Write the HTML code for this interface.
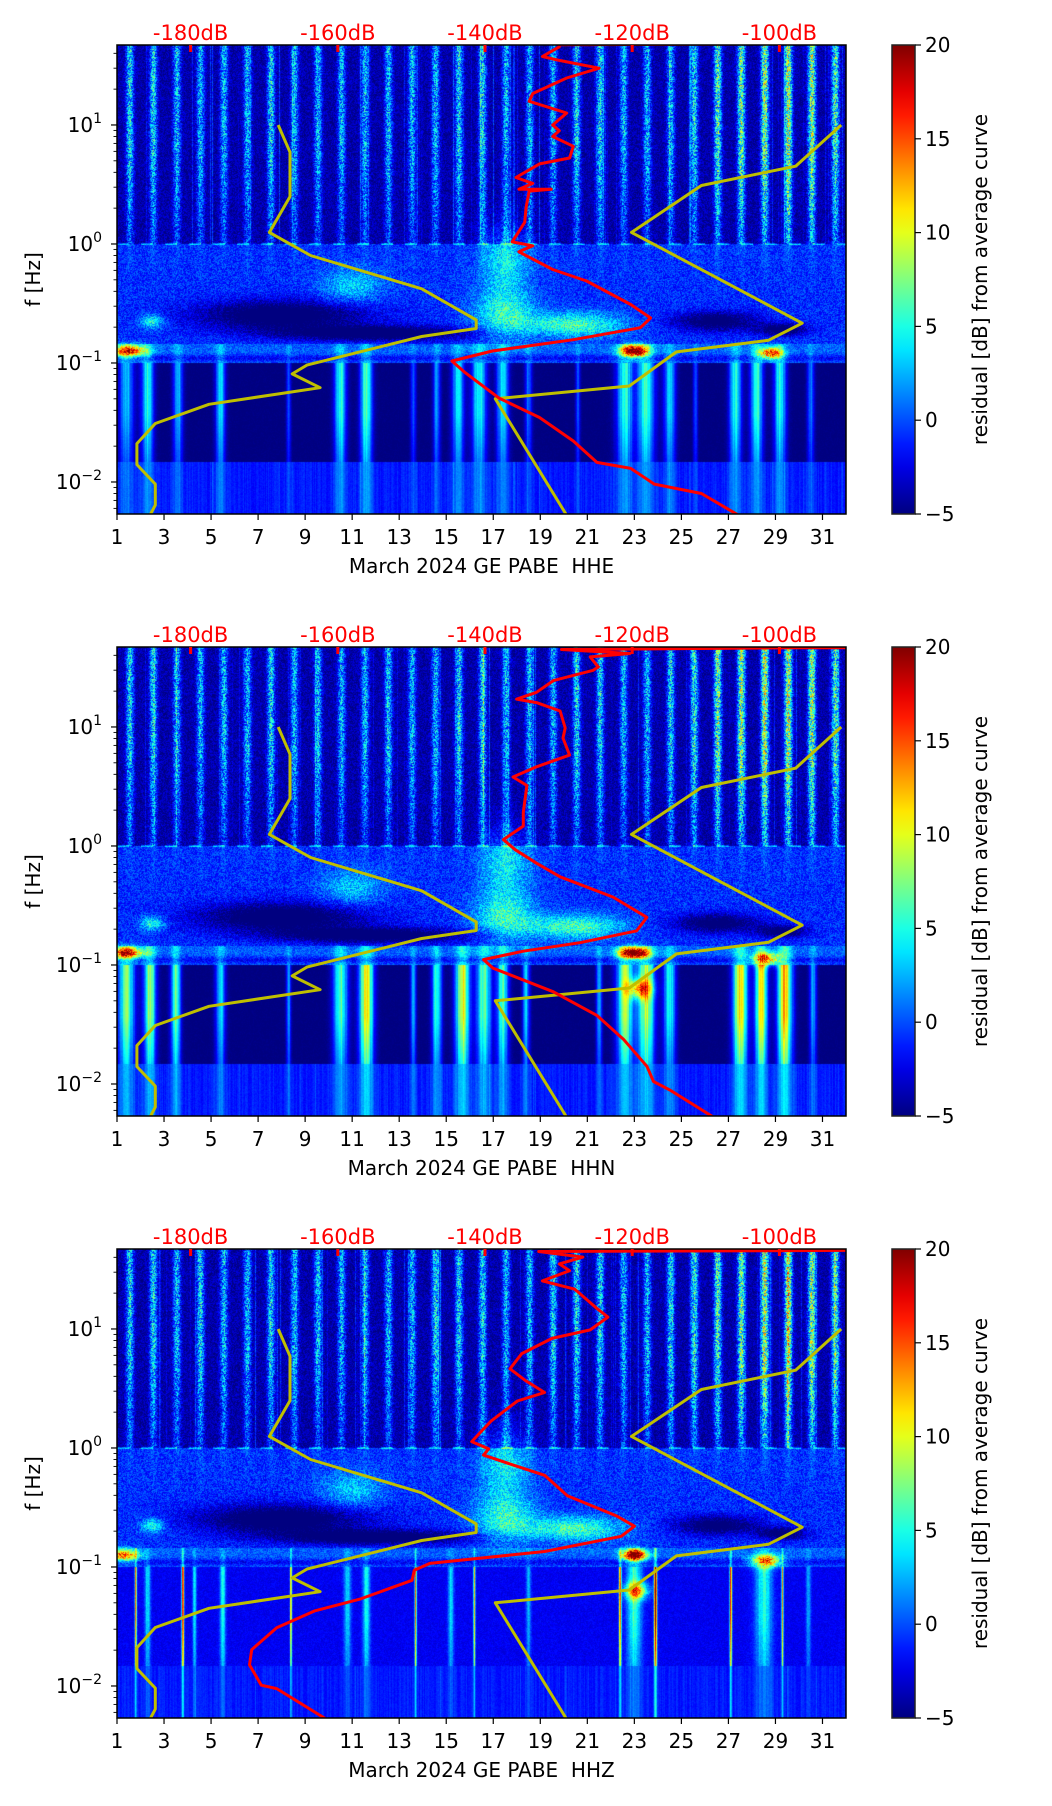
<!DOCTYPE html>
<html><head><meta charset="utf-8">
<style>
html,body{margin:0;padding:0;background:#fff;}
#root{position:relative;width:1052px;height:1806px;overflow:hidden;font-family:"DejaVu Sans","Liberation Sans",sans-serif;}
canvas{position:absolute;}
svg{position:absolute;left:0;top:0;}
text{white-space:pre;}
</style></head>
<body>
<div id="root">
<canvas id="c0" width="729" height="469" style="left:117px;top:45px"></canvas>
<canvas id="c1" width="729" height="469" style="left:117px;top:647px"></canvas>
<canvas id="c2" width="729" height="469" style="left:117px;top:1249px"></canvas>
<svg id="s" width="1052" height="1806"></svg>
</div>
<script>
// ---------------- data ----------------
const panelTops = [45, 647, 1249];
const panelNames = ["HHE", "HHN", "HHZ"];
const dayTicks = [1,3,5,7,9,11,13,15,17,19,21,23,25,27,29,31];
const dbTicks = [-180,-160,-140,-120,-100];
const freqTicks = [-2,-1,0,1];
const cbTicks = [-5,0,5,10,15,20];

const nlnmF = [10,5.9,2.5,1.25,0.8,0.42,0.23,0.195,0.167,0.096,0.081,0.062,0.045,0.031,0.021,0.014,0.0096,0.0064,0.005];
const nlnmDb = [-168.1,-166.5,-166.5,-169.3,-163.7,-148.6,-141.2,-141.2,-148.6,-164.2,-166.2,-162.4,-177.5,-184.8,-187.3,-187.3,-184.8,-184.8,-185.7];
const nhnmF = [10,4.5,3.1,1.25,0.216,0.155,0.124,0.064,0.05,0.005];
const nhnmDb = [-91.6,-97.8,-110.6,-120.1,-96.9,-101.5,-114,-120.4,-138.6,-128.7];

const psdF_HHE = [48.3,47.2,45.4,37.6,34.9,30,24.8,18.4,15.8,12.6,10,8.95,8,6.62,5.28,4.71,3.62,3.23,2.88,2.88,2.78,2.06,1.52,1.04,0.965,0.86,0.61,0.489,0.31,0.239,0.198,0.157,0.126,0.104,0.083,0.0507,0.0348,0.0221,0.0146,0.013,0.0096,0.008,0.0049];
const psdDb_HHE = [-90.5,-129.9,-129.9,-132.2,-129.9,-124.5,-128.9,-133.5,-134.0,-128.9,-130.8,-129.9,-130.8,-128.0,-128.5,-132.6,-135.8,-133.5,-135.4,-131.0,-134.0,-134.4,-134.6,-136.3,-133.5,-135.4,-130.8,-126.2,-120.2,-117.5,-118.9,-128.0,-139.0,-144.5,-142.7,-138.1,-132.6,-128.0,-124.8,-120.2,-117.0,-110.6,-104.7];
const psdLogF_HHN = [1.666,1.666,1.651,1.617,1.589,1.504,1.476,1.390,1.291,1.233,1.205,1.134,0.992,0.907,0.764,0.665,0.580,0.508,0.282,0.167,0.054,-0.031,-0.145,-0.259,-0.430,-0.600,-0.714,-0.813,-0.884,-0.955,-1.027,-1.225,-1.424,-1.624,-1.851,-1.979,-2.050,-2.277];
const psdDb_HHN = [-90.9,-97.2,-129.6,-120.3,-125.7,-124.6,-125.3,-130.7,-133.0,-135.7,-133.0,-129.8,-129.1,-129.4,-128.5,-133.0,-136.2,-134.3,-134.8,-134.8,-137.5,-135.9,-133.0,-129.8,-122.6,-118.0,-119.4,-127.1,-134.8,-140.2,-138.9,-130.7,-124.8,-121.2,-118.0,-117.1,-114.9,-109.0];
const psdLogF_HHZ = [1.66,1.651,1.604,1.547,1.490,1.404,1.334,1.163,1.100,0.992,0.921,0.793,0.665,0.566,0.466,0.395,0.225,0.054,-0.008,-0.060,-0.145,-0.230,-0.401,-0.572,-0.657,-0.742,-0.870,-0.970,-1.027,-1.112,-1.268,-1.368,-1.510,-1.695,-1.823,-1.993,-2.022,-2.277];
const psdDb_HHZ = [-90.9,-132.7,-126.7,-129.9,-128.5,-132.2,-127.8,-124.6,-123.3,-125.7,-130.9,-135.0,-136.6,-134.5,-131.9,-135.6,-139.2,-141.8,-139.5,-140.2,-136.1,-131.9,-128.8,-122.1,-119.7,-121.5,-131.9,-147.5,-149.6,-149.9,-156.9,-163.1,-168.3,-171.7,-172.0,-170.4,-168.3,-161.6];

const stripeAmp = [
 [8,8,7,7,7,7,8,7,7,7,7,7,7,7,8,8,7,7,7,8,8,7,7,7,8,10,11,12,13,12,10],
 [8,8,7,7,7,7,8,7,7,7,7,7,7,7,8,8,7,7,7,8,8,7,7,8,9,11,12,13,13,12,10],
 [8,8,7,8,7,7,8,7,7,7,7,7,7,8,8,8,7,7,8,8,8,7,7,8,9,10,11,13,13,12,10]
];
const lfStreaks = [
 [[1.4,.3,8],[2.3,.25,10],[3.6,.2,8],[5.4,.2,9],[8.3,.1,5],[10.5,.25,10],[11.6,.25,11],[13.6,.12,5],[14.6,.15,7],[15.5,.25,9],[16.4,.3,10],[17.4,.25,9],[18.5,.15,6],[20.6,.1,5],[22.6,.35,10],[23.5,.35,11],[24.5,.25,8],[25.6,.1,5],[27.3,.25,10],[28.2,.25,11],[29.2,.25,10],[30.5,.15,6]],
 [[1.4,.35,12],[2.4,.25,14],[3.5,.2,12],[5.4,.2,9],[8.3,.1,7],[10.5,.3,12],[11.6,.3,16],[13.6,.12,7],[14.6,.2,11],[15.7,.3,15],[16.6,.3,12],[17.4,.25,11],[18.4,.15,8],[21.5,.12,8],[22.6,.35,13],[23.5,.35,14],[24.5,.25,10],[27.5,.3,17],[28.4,.25,16],[29.4,.3,18],[30.6,.15,7]],
 [[1.8,.04,18],[2.3,.12,6],[3.8,.05,20],[4.3,.08,6],[5.5,.12,7],[8.4,.04,16],[10.8,.15,6],[11.6,.15,7],[13.7,.04,16],[15.2,.12,6],[16.2,.04,14],[18.5,.1,5],[22.4,.05,18],[23.0,.3,8],[23.9,.06,22],[27.1,.05,18],[28.5,.35,7],[29.3,.04,14],[30.4,.1,5]]
];
const blobs = [
 [[1.5,-0.9,0.7,0.05,16],[23,-0.9,0.55,0.05,22],[28.8,-0.92,0.5,0.05,16],[17.5,-0.6,1.3,0.2,6],[20.5,-0.68,2,0.1,7],[2.5,-0.65,0.5,0.06,6],[11,-0.35,1.3,0.15,4],[17.5,-0.15,1,0.3,5],[8,-0.6,3.5,0.12,-7],[12,-0.75,4,0.06,-7],[26.5,-0.65,1.8,0.08,-6],[29.3,-0.72,1.0,0.05,-6]],
 [[1.4,-0.9,0.7,0.05,16],[23,-0.9,0.6,0.05,22],[28.6,-0.95,0.6,0.05,15],[23.2,-1.2,0.5,0.08,12],[17.5,-0.6,1.3,0.2,6],[20.5,-0.68,2,0.1,7],[2.5,-0.65,0.5,0.06,6],[11,-0.35,1.3,0.15,4],[17.5,-0.15,1,0.3,5],[8,-0.6,3.5,0.12,-7],[12,-0.75,4,0.06,-7],[26.5,-0.65,1.8,0.08,-6],[29.3,-0.72,1.0,0.05,-6]],
 [[1.3,-0.9,0.6,0.05,15],[23,-0.9,0.5,0.05,22],[23.1,-1.2,0.5,0.07,12],[28.6,-0.95,0.6,0.05,16],[17.5,-0.6,1.3,0.2,6],[20.5,-0.68,2,0.1,7],[2.5,-0.65,0.5,0.06,6],[11,-0.35,1.3,0.15,4],[17.5,-0.15,1,0.3,5],[8,-0.6,3.5,0.12,-7],[12,-0.75,4,0.06,-7],[26.5,-0.65,1.8,0.08,-6],[29.3,-0.72,1.0,0.05,-6]]
];

// ---------------- scales ----------------
const X0 = 117, X1 = 846, W = 729, H = 469;
const LOGF_TOP = 1.672, LOGF_BOT = -2.269;
const DB_LEFT = -190, DB_RIGHT = -90.95;
function xDay(d){ return X0 + (d-1)/31*W; }
function dayOfPx(px){ return 1 + px/W*31; }
function xDb(db){ return X0 + (db-DB_LEFT)/(DB_RIGHT-DB_LEFT)*W; }
function yLog(lf, top){ return top + (LOGF_TOP-lf)/(LOGF_TOP-LOGF_BOT)*H; }
function logOfPy(py){ return LOGF_TOP - py/H*(LOGF_TOP-LOGF_BOT); }

function jet(t){
  t=Math.max(0,Math.min(1,t));
  const c=v=>Math.max(0,Math.min(1,v));
  return [c(1.5-Math.abs(4*t-3))*255, c(1.5-Math.abs(4*t-2))*255, c(1.5-Math.abs(4*t-1))*255];
}
function hash(x,y,s){ let h = (x*374761393 + y*668265263 + s*2147483647)|0; h=(h^(h>>>13))*1274126177|0; h=h^(h>>>16); return ((h>>>0)%10000)/10000; }

// ---------------- spectrograms ----------------
function drawPanel(p){
  const cv=document.getElementById('c'+p), ctx=cv.getContext('2d');
  const img=ctx.createImageData(W,H), d=img.data;
  const stripeCol=new Float32Array(W), lfCol=new Float32Array(W), thin=new Float32Array(W), colJit=new Float32Array(W);
  for(let x=0;x<W;x++){
    const day=dayOfPx(x+0.5);
    let s=0;
    for(let k=0;k<31;k++){
      const c=k+1.55; const a=stripeAmp[p][k];
      s+=a*Math.exp(-Math.pow((day-c)/0.16,2));
    }
    stripeCol[x]=s;
    let l=0;
    for(const st of lfStreaks[p]) l+=st[2]*Math.exp(-Math.pow((day-st[0])/st[1],2));
    lfCol[x]=l;
    thin[x]= hash(x,7,p)>0.93 ? 6*hash(x,3,p) : 0;
    colJit[x]=hash(x,11,p);
  }
  for(let y=0;y<H;y++){
    const lf=logOfPy(y+0.5);
    for(let x=0;x<W;x++){
      const day=dayOfPx(x+0.5);
      const r=hash(x,y,p+1);
      let v;
      if(lf>0.0){
        const fade=0.55+0.45*Math.min(1,lf/0.8);
        v=-4+stripeCol[x]*fade*(0.5+0.9*r)+ (r-0.5)*3 + thin[x]*0.6;
      } else if(lf>-0.84){
        v=-0.8+(r-0.5)*3.5 + stripeCol[x]*0.12*Math.max(0,1+lf*2.5);
      } else if(lf>-1.0){
        v=0.5+(r-0.5)*3 + lfCol[x]*0.3 - 2.5*Math.exp(-Math.pow((lf+0.96)/0.03,2));
      } else if(lf>-1.83){
        const k = p==2 ? -2.2 : -5;
        const taper = 0.7+0.3*Math.min(1,(lf+1.83)/0.4);
        v=k+lfCol[x]*taper*(0.85+0.3*colJit[x])+ (p==2? (r-0.5)*1.5:(r-0.5)*0.6);
      } else {
        v=-1.3+lfCol[x]*0.3+(r-0.5)*0.8+thin[x]*0.2+(colJit[x]-0.5)*1.2;
      }
      if(Math.abs(lf)<0.012 && (Math.floor(x/12)%2==0)) v+=4;
      for(const b of blobs[p]){
        const dx=(day-b[0])/b[2], dy=(lf-b[1])/b[3];
        const e=dx*dx+dy*dy; if(e<9) v+=b[4]*Math.exp(-e)*(b[4]>0?(0.8+0.4*r):1);
      }
      const c=jet((v+5)/25), i=(y*W+x)*4;
      d[i]=c[0];d[i+1]=c[1];d[i+2]=c[2];d[i+3]=255;
    }
  }
  ctx.putImageData(img,0,0);
}
[0,1,2].forEach(drawPanel);

// ---------------- SVG axes ----------------
const NS='http://www.w3.org/2000/svg', svg=document.getElementById('s');
function el(tag,attrs,parent){ const e=document.createElementNS(NS,tag); for(const k in attrs) e.setAttribute(k,attrs[k]); (parent||svg).appendChild(e); return e; }
function txt(str,attrs,parent){ const e=el('text',attrs,parent); e.textContent=str; return e; }

const defs=el('defs',{});
const grad=el('linearGradient',{id:'jetg',x1:0,y1:1,x2:0,y2:0},defs);
for(let i=0;i<=20;i++){ const c=jet(i/20); el('stop',{offset:(i/20),'stop-color':`rgb(${c.map(Math.round).join(',')})`},grad); }

function pathFrom(fs,dbs,top,isLog){
  let s='';
  for(let i=0;i<fs.length;i++){
    const lf=isLog?fs[i]:Math.log10(fs[i]);
    s+=(i?'L':'M')+xDb(dbs[i]).toFixed(1)+','+yLog(lf,top).toFixed(1);
  }
  return s;
}

panelTops.forEach((top,p)=>{
  const g=el('g',{});
  
  
  const cp=el('clipPath',{id:'clip'+p},defs);
  el('rect',{x:X0,y:top,width:W,height:H},cp);
  const lines=el('g',{'clip-path':`url(#clip${p})`},g);
  const ln=el('path',{d:pathFrom(nlnmF,nlnmDb,top,false),fill:'none',stroke:'#bfbf00','stroke-width':3,'stroke-linejoin':'round'},lines);
  
  
  const hn=el('path',{d:pathFrom(nhnmF,nhnmDb,top,false),fill:'none',stroke:'#bfbf00','stroke-width':3,'stroke-linejoin':'round'},lines);
  
  
  const pd = p==0 ? pathFrom(psdF_HHE,psdDb_HHE,top,false) : p==1 ? pathFrom(psdLogF_HHN,psdDb_HHN,top,true) : pathFrom(psdLogF_HHZ,psdDb_HHZ,top,true);
  const rp=el('path',{d:pd,fill:'none',stroke:'#ff0000','stroke-width':3,'stroke-linejoin':'round'},lines);
  
  
  el('rect',{x:X0,y:top,width:W,height:H,fill:'none',stroke:'#000','stroke-width':1.5},g);
  dayTicks.forEach(dd=>{
    const x=xDay(dd);
    el('line',{x1:x,y1:top+H,x2:x,y2:top+H+6,stroke:'#000','stroke-width':1.2},g);
    const t=txt(String(dd),{x:x,y:top+H+30,'font-size':20,'text-anchor':'middle',fill:'#000'},g);
    
    
  });
  const xl=txt('March 2024 GE PABE  '+panelNames[p],{x:(X0+X1)/2,y:top+H+59,'font-size':20,'text-anchor':'middle',fill:'#000'},g);
  
  
  for(let dec=-3;dec<=1;dec++){
    for(let m=1;m<10;m++){
      const lf=dec+Math.log10(m);
      if(lf<LOGF_BOT||lf>LOGF_TOP) continue;
      const y=yLog(lf,top);
      el('line',{x1:X0,y1:y,x2:X0-(m==1?6:3.5),y2:y,stroke:'#000','stroke-width':m==1?1.2:0.9},g);
    }
  }
  freqTicks.forEach(e=>{
    const y=yLog(e,top);
    const t=el('text',{x:102,y:y+7,'font-size':20,'text-anchor':'end',fill:'#000'},g);
    
    
    const a=document.createElementNS(NS,'tspan'); a.textContent='10'; t.appendChild(a);
    const b=document.createElementNS(NS,'tspan'); b.setAttribute('dy','-9'); b.setAttribute('font-size','14'); b.textContent=(e<0?'\u2212':'')+Math.abs(e); t.appendChild(b);
  });
  const yl=txt('f [Hz]',{x:0,y:0,'font-size':20,'text-anchor':'middle',fill:'#000',transform:`translate(40,${top+H/2}) rotate(-90)`},g);
  
  
  dbTicks.forEach(db=>{
    const x=xDb(db);
    el('line',{x1:x,y1:top,x2:x,y2:top+7,stroke:'#ff0000','stroke-width':3},g);
    const t=txt(db+'dB',{x:x,y:top-5,'font-size':21,'text-anchor':'middle',fill:'#ff0000'},g);
    
    
  });
  const cb=el('g',{},g);
  
  
  el('rect',{x:892,y:top,width:23,height:H,fill:'url(#jetg)',stroke:'#222','stroke-width':1.5},cb);
  cbTicks.forEach(v=>{
    const y=top+H-(v+5)/25*H;
    el('line',{x1:915,y1:y,x2:921,y2:y,stroke:'#000','stroke-width':1.2},cb);
    const t=txt((v<0?'\u2212':'')+Math.abs(v),{x:925,y:y+7,'font-size':20,fill:'#000'},cb);
    
    
  });
  const cl=txt('residual [dB] from average curve',{x:0,y:0,'font-size':20,'text-anchor':'middle',fill:'#000',transform:`translate(987,${top+H/2}) rotate(-90)`},cb);
  
  
});
</script>
</body></html>
